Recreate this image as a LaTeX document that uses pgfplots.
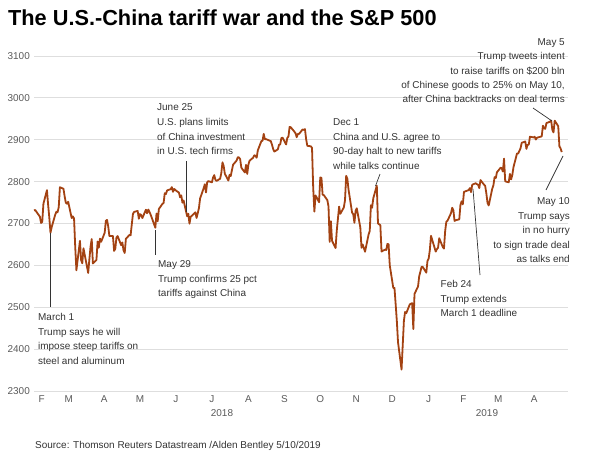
\documentclass[border=0pt]{standalone}
\usepackage{pgfplots}
\pgfplotsset{compat=1.18}
\usepackage{fontspec}
\setmainfont{Liberation Sans}
\definecolor{sp}{RGB}{163,66,18}
\definecolor{tk}{RGB}{90,90,90}
\definecolor{tx}{RGB}{51,51,51}
\definecolor{gr}{RGB}{222,222,222}
\begin{document}
\begin{tikzpicture}
\useasboundingbox (0,0) rectangle (590bp,-453bp);
\begin{axis}[
  at={(34bp,-391bp)}, anchor=south west,
  scale only axis, width=534bp, height=335bp,
  xmin=46, xmax=499.3, ymin=2300, ymax=3100,
  axis line style={draw=none},
  major tick length=0pt,
  ytick={2300,2400,...,3100},
  ymajorgrids, grid style={gr, line width=0.8bp},
  xtick={52.5,75.5,105.5,136,166.5,197,228,258.5,289,319.5,350,381,410.5,440,470.5},
  xticklabels={F,M,A,M,J,J,A,S,O,N,D,J,F,M,A},
  /pgf/number format/assume math mode=true,
  /pgf/number format/1000 sep={},
  tick label style={font=\fontsize{10}{12}\selectfont, text=tk, inner sep=0pt},
  yticklabel style={anchor=east, xshift=-4bp},
  xticklabel style={anchor=base, yshift=-11.6bp},
  clip=false,
]
\addplot[sp, line width=1.8bp, line join=round] table[row sep=\\] {
x y\\
46 2731.2\\ 47 2732.2\\ 51 2716.3\\ 52 2701.3\\ 53 2704.0\\ 54 2747.3\\ 57 2779.6\\ 58 2744.3\\ 59 2713.8\\
60 2677.7\\ 61 2691.3\\ 64 2720.9\\ 65 2728.1\\ 66 2726.8\\ 67 2739.0\\ 68 2786.6\\ 71 2783.0\\ 72 2765.3\\ 73 2749.5\\ 74 2747.3\\ 75 2752.0\\ 78 2712.9\\ 79 2716.9\\ 80 2711.9\\ 81 2643.7\\ 82 2588.3\\ 85 2658.6\\ 86 2612.6\\ 87 2605.0\\ 88 2640.9\\
92 2581.9\\ 93 2614.4\\ 94 2644.7\\ 95 2662.8\\ 96 2604.5\\ 99 2613.2\\ 100 2656.9\\ 101 2642.2\\ 102 2664.0\\ 103 2656.3\\ 106 2677.8\\ 107 2706.4\\ 108 2708.6\\ 109 2693.1\\ 110 2670.1\\ 113 2670.3\\ 114 2634.6\\ 115 2639.4\\ 116 2666.9\\ 117 2669.9\\ 120 2648.1\\
121 2654.8\\ 122 2635.7\\ 123 2629.7\\ 124 2663.4\\ 127 2672.6\\ 128 2671.9\\ 129 2697.8\\ 130 2723.1\\ 131 2727.7\\ 134 2730.1\\ 135 2711.5\\ 136 2722.5\\ 137 2720.1\\ 138 2713.0\\ 141 2733.0\\ 142 2724.4\\ 143 2733.3\\ 144 2727.8\\ 145 2721.3\\ 149 2689.9\\ 150 2724.0\\ 151 2705.3\\
152 2734.6\\ 155 2746.9\\ 156 2748.8\\ 157 2772.4\\ 158 2770.4\\ 159 2779.0\\ 162 2782.0\\ 163 2786.9\\ 164 2775.6\\ 165 2782.5\\ 166 2779.7\\ 169 2773.9\\ 170 2762.6\\ 171 2767.3\\ 172 2749.8\\ 173 2754.9\\ 176 2717.1\\ 177 2723.1\\ 178 2699.6\\ 179 2716.3\\ 180 2718.4\\
183 2726.7\\ 184 2713.2\\ 186 2736.6\\ 187 2759.8\\ 190 2784.2\\ 191 2793.8\\ 192 2774.0\\ 193 2798.3\\ 194 2801.3\\ 197 2798.4\\ 198 2809.6\\ 199 2815.6\\ 200 2804.5\\ 201 2801.8\\ 204 2807.0\\ 205 2820.4\\ 206 2846.1\\ 207 2837.4\\ 208 2818.8\\ 211 2802.6\\ 212 2816.3\\
213 2813.4\\ 214 2827.2\\ 215 2840.4\\ 218 2850.4\\ 219 2858.5\\ 220 2857.7\\ 221 2853.6\\ 222 2833.3\\ 225 2821.9\\ 226 2840.0\\ 227 2818.4\\ 228 2840.7\\ 229 2850.1\\ 232 2857.1\\ 233 2863.0\\ 234 2861.8\\ 235 2857.0\\ 236 2874.7\\ 239 2896.7\\ 240 2897.5\\ 241 2914.0\\ 242 2901.1\\ 243 2901.5\\
247 2896.7\\ 248 2888.6\\ 249 2878.1\\ 250 2871.7\\ 253 2877.1\\ 254 2887.9\\ 255 2888.9\\ 256 2904.2\\ 257 2905.0\\ 260 2888.8\\ 261 2904.3\\ 262 2908.0\\ 263 2930.8\\ 264 2929.7\\ 267 2919.4\\ 268 2915.6\\ 269 2906.0\\ 270 2914.0\\ 271 2914.0\\
274 2924.6\\ 275 2923.4\\ 276 2925.5\\ 277 2901.6\\ 278 2885.6\\ 281 2884.4\\ 282 2880.3\\ 283 2785.7\\ 284 2728.4\\ 285 2767.1\\ 288 2750.8\\ 289 2809.9\\ 290 2809.2\\ 291 2768.8\\ 292 2767.8\\ 295 2755.9\\ 296 2740.7\\ 297 2656.1\\ 298 2705.6\\ 299 2658.7\\ 302 2641.3\\ 303 2682.6\\ 304 2711.7\\
305 2740.4\\ 306 2723.1\\ 309 2738.3\\ 310 2755.5\\ 311 2813.9\\ 312 2806.8\\ 313 2781.0\\ 316 2726.2\\ 317 2722.2\\ 318 2701.6\\ 319 2730.2\\ 320 2736.3\\ 323 2690.7\\ 324 2641.9\\ 325 2649.9\\ 327 2632.6\\ 330 2673.5\\ 331 2682.2\\ 332 2743.8\\ 333 2737.8\\ 334 2760.2\\
337 2790.4\\ 338 2700.1\\ 340 2696.0\\ 341 2633.1\\ 344 2637.7\\ 345 2636.8\\ 346 2651.1\\ 347 2650.5\\ 348 2600.0\\ 351 2545.9\\ 352 2546.2\\ 353 2507.0\\ 354 2467.4\\ 355 2416.6\\ 358 2351.1\\ 360 2467.7\\ 361 2488.8\\ 362 2485.7\\ 365 2506.9\\
367 2510.0\\ 368 2447.9\\ 369 2531.9\\ 372 2549.7\\ 373 2574.4\\ 374 2585.0\\ 375 2596.6\\ 376 2596.3\\ 379 2582.6\\ 380 2610.3\\ 381 2616.1\\ 382 2636.0\\ 383 2670.7\\ 387 2632.9\\ 388 2638.7\\ 389 2642.3\\ 390 2664.8\\ 393 2643.9\\ 394 2640.0\\ 395 2681.1\\ 396 2704.1\\
397 2706.5\\ 400 2724.9\\ 401 2737.7\\ 402 2731.6\\ 403 2706.1\\ 404 2707.9\\ 407 2709.8\\ 408 2744.7\\ 409 2753.0\\ 410 2745.7\\ 411 2775.6\\ 415 2779.8\\ 416 2784.7\\ 417 2774.9\\ 418 2792.7\\ 421 2796.1\\ 422 2793.9\\ 423 2792.4\\ 424 2784.5\\
425 2803.7\\ 428 2792.8\\ 429 2789.7\\ 430 2771.5\\ 431 2748.9\\ 432 2743.1\\ 435 2783.3\\ 436 2791.5\\ 437 2810.9\\ 438 2808.5\\ 439 2822.5\\ 442 2832.9\\ 443 2832.6\\ 444 2824.2\\ 445 2854.9\\ 446 2800.7\\ 449 2798.4\\ 450 2818.5\\ 451 2805.4\\ 452 2815.4\\ 453 2834.4\\
456 2867.2\\ 457 2867.2\\ 458 2873.4\\ 459 2879.4\\ 460 2892.7\\ 463 2895.8\\ 464 2878.2\\ 465 2888.2\\ 466 2888.3\\ 467 2907.4\\ 470 2905.6\\ 471 2907.1\\ 472 2900.5\\ 473 2905.0\\ 477 2908.0\\ 478 2933.7\\ 479 2927.3\\ 480 2926.2\\ 481 2939.9\\ 484 2943.0\\ 485 2945.8\\
486 2923.7\\ 487 2917.5\\ 488 2945.6\\ 491 2932.5\\ 492 2884.1\\ 493 2879.4\\ 494 2870.7\\
};
\end{axis}
\begin{scope}[x=1bp, y=-1bp, every node/.style={inner sep=0pt, text=tx, font=\fontsize{10}{12}\selectfont, anchor=base west}]
\node[font=\bfseries\fontsize{21.8}{24}\selectfont, text=black] at (8,25.5) {The U.S.-China tariff war and the S\&P 500};
% year labels
\node[anchor=base, text=tk] at (222,416.6) {2018};
\node[anchor=base, text=tk] at (487,416.6) {2019};
% source
\node[text=tx] at (35,448.5) {Source: Thomson Reuters Datastream /Alden Bentley 5/10/2019};
% leader lines
\draw[tx, line width=0.7bp] (50.5,233) -- (50.5,307);
\draw[tx, line width=0.7bp] (155,230) -- (155,255);
\draw[tx, line width=0.7bp] (186,161) -- (186,212);
\draw[tx, line width=0.7bp] (380,174) -- (375.5,186);
\draw[tx, line width=0.7bp] (533,108) -- (552,121);
\draw[tx, line width=0.7bp] (563,156) -- (546,190);
\draw[tx, line width=0.7bp] (473,189) -- (480,275);
% March 1
\node at (38,320.4) {March 1};
\node at (38,335.0) {Trump says he will};
\node at (38,349.6) {impose steep tariffs on};
\node at (38,364.2) {steel and aluminum};
% May 29
\node at (158,267.7) {May 29};
\node at (158,282.3) {Trump confirms 25 pct};
\node at (158,296.9) {tariffs against China};
% June 25
\node at (157,110.7) {June 25};
\node at (157,125.4) {U.S. plans limits};
\node at (157,140.1) {of China investment};
\node at (157,154.8) {in U.S. tech firms};
% Dec 1
\node at (333,125.4) {Dec 1};
\node at (333,140.2) {China and U.S. agree to};
\node at (333,154.9) {90-day halt to new tariffs};
\node at (333,169.6) {while talks continue};
% May 5
\node[anchor=base east] at (565,45.4) {May 5};
\node[anchor=base east] at (565,59.6) {Trump tweets intent};
\node[anchor=base east] at (565,74.0) {to raise tariffs on \$200 bln};
\node[anchor=base east] at (565,88.4) {of Chinese goods to 25\% on May 10,};
\node[anchor=base east] at (565,102.7) {after China backtracks on deal terms};
% May 10
\node[anchor=base east] at (570,204.7) {May 10};
\node[anchor=base east] at (570,219.2) {Trump says};
\node[anchor=base east] at (570,233.8) {in no hurry};
\node[anchor=base east] at (570,248.3) {to sign trade deal};
\node[anchor=base east] at (570,262.8) {as talks end};
% Feb 24
\node at (440.5,287.7) {Feb 24};
\node at (440.5,302.0) {Trump extends};
\node at (440.5,316.4) {March 1 deadline};
\end{scope}
\end{tikzpicture}
\end{document}
